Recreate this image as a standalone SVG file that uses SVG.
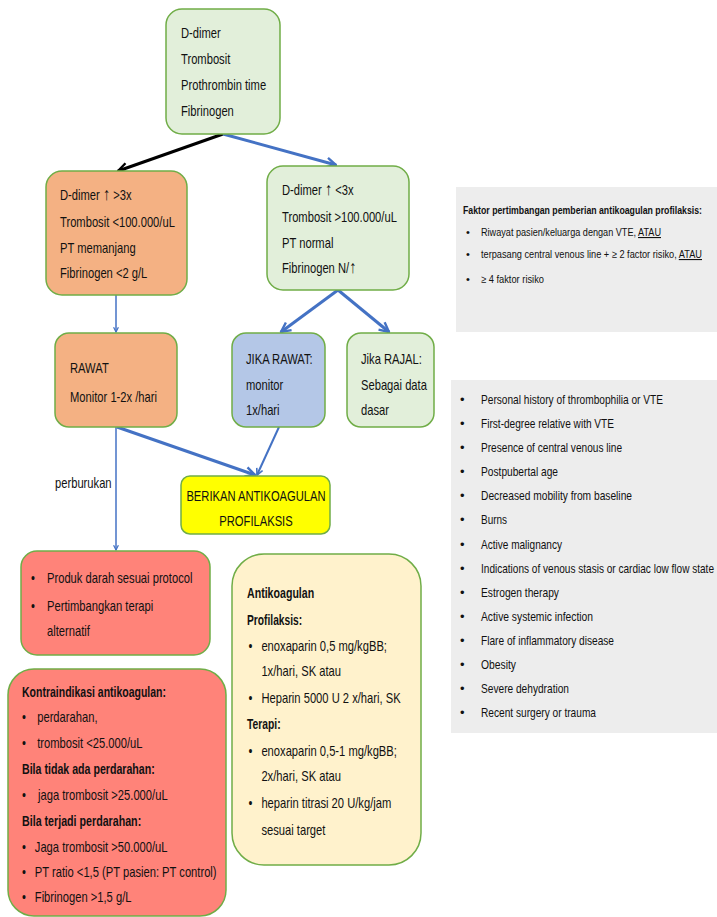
<svg xmlns="http://www.w3.org/2000/svg" width="717" height="917" viewBox="0 0 717 917">
<defs>
<style>
text{font-family:"Liberation Sans",Arial,sans-serif;font-size:14px;fill:#111}
.b{font-weight:bold}
.s{font-size:13px}
.xs{font-size:11px}
.ar{font-size:18px}
.box{stroke:#70ad47;stroke-width:1.5}
.g{fill:#e2efda}.o{fill:#f4b183}.bl{fill:#b4c7e7}.y{fill:#ffff00}.r{fill:#ff8379}.c{fill:#fff2cc}
.blue{stroke:#4472c4;fill:none}
</style>
<marker id="ab" viewBox="0 0 10 10" refX="9" refY="5" markerWidth="4" markerHeight="4" orient="auto"><path d="M1,1 L9,5 L1,9" fill="none" stroke="#4472c4" stroke-width="2"/></marker>
<marker id="ak" viewBox="0 0 10 10" refX="9" refY="5" markerWidth="4" markerHeight="4" orient="auto"><path d="M1,1 L9,5 L1,9" fill="none" stroke="#000" stroke-width="2"/></marker>
</defs>
<rect width="717" height="917" fill="#fff"/>
<g id="connectors">
<line x1="223" y1="134" x2="118" y2="171" stroke="#000" stroke-width="3" marker-end="url(#ak)"/>
<line x1="223" y1="134" x2="336" y2="165" class="blue" stroke-width="3" marker-end="url(#ab)"/>
<line x1="116" y1="295" x2="116" y2="332" class="blue" stroke-width="1.5" marker-end="url(#ab)"/>
<line x1="338" y1="290" x2="281" y2="332" class="blue" stroke-width="3" marker-end="url(#ab)"/>
<line x1="338" y1="290" x2="389" y2="332" class="blue" stroke-width="3" marker-end="url(#ab)"/>
<line x1="117" y1="427" x2="255" y2="475" class="blue" stroke-width="3" marker-end="url(#ab)"/>
<line x1="279" y1="427" x2="257" y2="475" class="blue" stroke-width="2" marker-end="url(#ab)"/>
<line x1="116" y1="427" x2="116" y2="550" class="blue" stroke-width="1.5" marker-end="url(#ab)"/>
</g>
<g id="n-top"><rect class="box g" x="166" y="9" width="114" height="125" rx="16"/>
<g transform="translate(181 0) scale(0.8 1)"><text x="0" y="38">D-dimer</text><text x="0" y="64">Trombosit</text><text x="0" y="90">Prothrombin time</text><text x="0" y="116">Fibrinogen</text></g></g>
<g id="n-left"><rect class="box o" x="46" y="171" width="141" height="124" rx="16"/>
<g transform="translate(60 0) scale(0.8 1)"><text x="0" y="200">D-dimer <tspan class="ar">↑</tspan> &gt;3x</text><text x="0" y="227">Trombosit &lt;100.000/uL</text><text x="0" y="253">PT memanjang</text><text x="0" y="278">Fibrinogen &lt;2 g/L</text></g></g>
<g id="n-right"><rect class="box g" x="267" y="166" width="142" height="124" rx="16"/>
<g transform="translate(282 0) scale(0.8 1)"><text x="0" y="195">D-dimer <tspan class="ar">↑</tspan> &lt;3x</text><text x="0" y="222">Trombosit &gt;100.000/uL</text><text x="0" y="248">PT normal</text><text x="0" y="273">Fibrinogen N/<tspan class="ar">↑</tspan></text></g></g>
<g id="n-rawat"><rect class="box o" x="55" y="333" width="122" height="94" rx="14"/>
<g transform="translate(70 0) scale(0.8 1)"><text x="0" y="373">RAWAT</text><text x="0" y="402">Monitor 1-2x /hari</text></g></g>
<g id="n-jikarawat"><rect class="box bl" x="232" y="333" width="93" height="94" rx="14"/>
<g transform="translate(246 0) scale(0.8 1)"><text x="0" y="364">JIKA RAWAT:</text><text x="0" y="390">monitor</text><text x="0" y="415">1x/hari</text></g></g>
<g id="n-rajal"><rect class="box g" x="347" y="333" width="87" height="94" rx="14"/>
<g transform="translate(361 0) scale(0.8 1)"><text x="0" y="364">Jika RAJAL:</text><text x="0" y="390">Sebagai data</text><text x="0" y="415">dasar</text></g></g>
<g id="n-berikan"><rect class="box y" x="181" y="476" width="149" height="58" rx="9"/>
<g transform="translate(256 0) scale(0.8 1)"><text x="0" y="501" text-anchor="middle">BERIKAN ANTIKOAGULAN</text><text x="0" y="526" text-anchor="middle">PROFILAKSIS</text></g></g>
<g transform="translate(55 0) scale(0.8 1)"><text x="0" y="488">perburukan</text></g>
<g id="n-produk"><rect class="box r" x="21" y="551" width="189" height="104" rx="16"/>
<g transform="translate(31 0) scale(0.8 1)">
<text x="0" y="583">•</text><text x="20" y="583">Produk darah  sesuai protocol</text>
<text x="0" y="611">•</text><text x="20" y="611">Pertimbangkan terapi</text><text x="20" y="636">alternatif</text></g></g>
<g id="n-kontra"><rect class="box r" x="8" y="669" width="218" height="247" rx="26"/>
<g transform="translate(22 0) scale(0.8 1)">
<text x="0" y="697" class="b" textLength="180" lengthAdjust="spacingAndGlyphs">Kontraindikasi antikoagulan:</text>
<text x="0" y="722">•</text><text x="19" y="722">perdarahan,</text>
<text x="0" y="748">•</text><text x="19" y="748">trombosit &lt;25.000/uL</text>
<text x="0" y="774" class="b" textLength="166" lengthAdjust="spacingAndGlyphs">Bila tidak ada perdarahan:</text>
<text x="0" y="800">•</text><text x="20" y="800">jaga trombosit &gt;25.000/uL</text>
<text x="0" y="826" class="b" textLength="149" lengthAdjust="spacingAndGlyphs">Bila terjadi perdarahan:</text>
<text x="0" y="852">•</text><text x="16" y="852">Jaga trombosit &gt;50.000/uL</text>
<text x="0" y="877">•</text><text x="16" y="877">PT ratio &lt;1,5 (PT pasien: PT control)</text>
<text x="0" y="902">•</text><text x="16" y="902">Fibrinogen &gt;1,5 g/L</text></g></g>
<g id="n-antikoagulan"><rect class="box c" x="232" y="554" width="189" height="311" rx="32"/>
<g transform="translate(247 0) scale(0.8 1)">
<text x="0" y="598" class="b" textLength="84" lengthAdjust="spacingAndGlyphs">Antikoagulan</text>
<text x="0" y="625" class="b" textLength="69" lengthAdjust="spacingAndGlyphs">Profilaksis:</text>
<text x="2" y="651">•</text><text x="18" y="651">enoxaparin 0,5 mg/kgBB;</text>
<text x="18" y="676">1x/hari, SK atau</text>
<text x="2" y="703">•</text><text x="18" y="703">Heparin 5000 U 2 x/hari, SK</text>
<text x="0" y="729" class="b" textLength="42" lengthAdjust="spacingAndGlyphs">Terapi:</text>
<text x="2" y="756">•</text><text x="18" y="756">enoxaparin 0,5-1 mg/kgBB;</text>
<text x="18" y="781">2x/hari, SK atau</text>
<text x="2" y="808">•</text><text x="18" y="808">heparin titrasi 20 U/kg/jam</text>
<text x="18" y="835">sesuai target</text></g></g>
<g id="n-faktor"><rect x="456" y="187" width="261" height="145" fill="#ededed"/>
<text x="463" y="214" class="b xs" textLength="239" lengthAdjust="spacingAndGlyphs">Faktor pertimbangan pemberian antikoagulan profilaksis:</text>
<text x="466" y="236" class="xs">•</text><text x="481" y="236" class="xs" textLength="180" lengthAdjust="spacingAndGlyphs">Riwayat pasien/keluarga dengan VTE, <tspan text-decoration="underline">ATAU</tspan></text>
<text x="466" y="258" class="xs">•</text><text x="481" y="258" class="xs" textLength="221" lengthAdjust="spacingAndGlyphs">terpasang central venous line + ≥ 2 factor risiko, <tspan text-decoration="underline">ATAU</tspan></text>
<text x="466" y="283" class="xs">•</text><text x="481" y="283" class="xs" textLength="63" lengthAdjust="spacingAndGlyphs">≥ 4 faktor risiko</text></g>
<g id="n-risiko"><rect x="451" y="380" width="266" height="353" fill="#ededed"/>
<text x="460" y="404" class="s">•</text><text x="481" y="404" class="s" textLength="182" lengthAdjust="spacingAndGlyphs">Personal history of thrombophilia or VTE</text>
<text x="460" y="428" class="s">•</text><text x="481" y="428" class="s" textLength="133" lengthAdjust="spacingAndGlyphs">First-degree relative with VTE</text>
<text x="460" y="452" class="s">•</text><text x="481" y="452" class="s" textLength="141" lengthAdjust="spacingAndGlyphs">Presence of central venous line</text>
<text x="460" y="476" class="s">•</text><text x="481" y="476" class="s" textLength="77" lengthAdjust="spacingAndGlyphs">Postpubertal age</text>
<text x="460" y="500" class="s">•</text><text x="481" y="500" class="s" textLength="151" lengthAdjust="spacingAndGlyphs">Decreased mobility from baseline</text>
<text x="460" y="524" class="s">•</text><text x="481" y="524" class="s" textLength="26" lengthAdjust="spacingAndGlyphs">Burns</text>
<text x="460" y="549" class="s">•</text><text x="481" y="549" class="s" textLength="81" lengthAdjust="spacingAndGlyphs">Active malignancy</text>
<text x="460" y="573" class="s">•</text><text x="481" y="573" class="s" textLength="233" lengthAdjust="spacingAndGlyphs">Indications of venous stasis or cardiac low flow state</text>
<text x="460" y="597" class="s">•</text><text x="481" y="597" class="s" textLength="78" lengthAdjust="spacingAndGlyphs">Estrogen therapy</text>
<text x="460" y="621" class="s">•</text><text x="481" y="621" class="s" textLength="112" lengthAdjust="spacingAndGlyphs">Active systemic infection</text>
<text x="460" y="645" class="s">•</text><text x="481" y="645" class="s" textLength="133" lengthAdjust="spacingAndGlyphs">Flare of inflammatory disease</text>
<text x="460" y="669" class="s">•</text><text x="481" y="669" class="s" textLength="35" lengthAdjust="spacingAndGlyphs">Obesity</text>
<text x="460" y="693" class="s">•</text><text x="481" y="693" class="s" textLength="88" lengthAdjust="spacingAndGlyphs">Severe dehydration</text>
<text x="460" y="717" class="s">•</text><text x="481" y="717" class="s" textLength="115" lengthAdjust="spacingAndGlyphs">Recent surgery or trauma</text>
</g>
</svg>
